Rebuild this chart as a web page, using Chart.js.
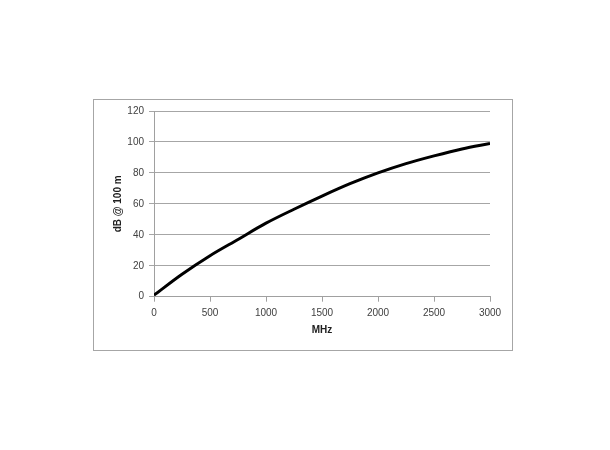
<!DOCTYPE html>
<html>
<head>
<meta charset="utf-8">
<script src="https://cdn.jsdelivr.net/npm/chart.js@4"></script>
<style>
  html, body { margin: 0; padding: 0; background: #fff; }
  #frame {
    position: absolute; left: 93px; top: 99px;
    width: 418px; height: 250px;
    border: 1px solid #a6a6a6;
  }
</style>
</head>
<body>
<div id="frame"><canvas id="chart"></canvas></div>
<script>
// frequency (MHz) and attenuation (dB @ 100 m)
const freqMHz = [0, 250, 500, 750, 1000, 1250, 1500, 1750, 2000, 2250, 2500, 2750, 3000];
const lossDb = [1, 14.5, 26.5, 37, 47.5, 56.5, 65, 73, 80, 86, 91, 95.5, 99];
const yTicks = [0, 20, 40, 60, 80, 100, 120];
const xTicks = [0, 500, 1000, 1500, 2000, 2500, 3000];

const points = freqMHz.map((f, i) => ({ x: f, y: lossDb[i] }));
const tickFont = { family: 'Liberation Sans', size: 10 };
const titleFont = { family: 'Liberation Sans', size: 10, weight: 'bold' };

const ctx = document.getElementById('chart').getContext('2d');
new Chart(ctx, {
  type: 'line',
  data: {
    datasets: [{
      data: points,
      borderColor: '#000',
      borderWidth: 3,
      pointRadius: 0,
      cubicInterpolationMode: 'monotone',
      fill: false
    }]
  },
  options: {
    responsive: true,
    maintainAspectRatio: false,
    animation: false,
    layout: { padding: { left: 0, right: 22, top: 11, bottom: 0 } },
    plugins: { legend: { display: false }, tooltip: { enabled: false } },
    scales: {
      x: {
        type: 'linear',
        min: 0, max: 3000,
        afterBuildTicks: s => { s.ticks = xTicks.map(v => ({ value: v })); },
        afterFit: s => { s.height = 53.3; },
        border: { color: '#a0a0a0', width: 1 },
        grid: { drawOnChartArea: false, drawTicks: true, tickLength: 5, color: '#a0a0a0' },
        ticks: { font: tickFont, color: '#404040', padding: 6, maxRotation: 0, callback: v => String(v) },
        title: { display: true, text: 'MHz', font: titleFont, color: '#202020', padding: { top: 0, bottom: 13.4 } }
      },
      y: {
        min: 0, max: 120,
        afterBuildTicks: s => { s.ticks = yTicks.map(v => ({ value: v })); },
        afterFit: s => { s.width = 60; },
        border: { color: '#a0a0a0', width: 1 },
        grid: { color: '#a6a6a6', lineWidth: 1, tickLength: 5 },
        ticks: { font: tickFont, color: '#404040', padding: 5, callback: v => String(v) },
        title: { display: true, text: 'dB @ 100 m', font: titleFont, color: '#202020', padding: { top: 18.4, bottom: 0 } }
      }
    }
  }
});
</script>
</body>
</html>
